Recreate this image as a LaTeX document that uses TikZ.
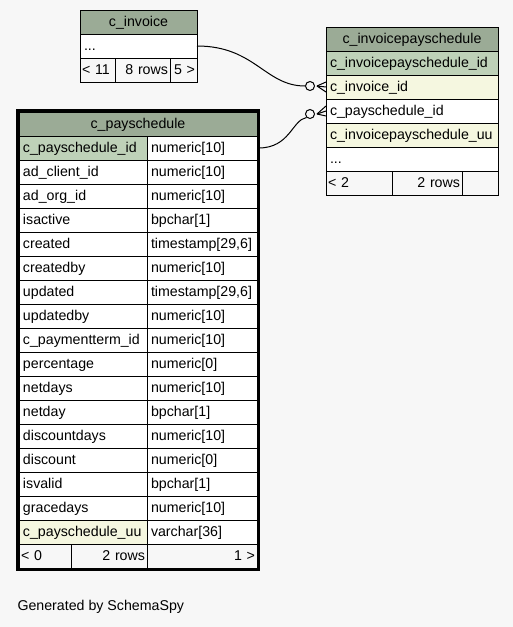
\documentclass[tikz,border=0pt]{standalone}
\usepackage{fontspec}
\setmainfont{Liberation Sans}
\usetikzlibrary{positioning}
\definecolor{bgcol}{HTML}{F7F7F7}
\definecolor{headcol}{HTML}{9BAB96}
\definecolor{keycol}{HTML}{BED1B8}
\definecolor{idxcol}{HTML}{F5F7E0}
\begin{document}
\begin{tikzpicture}[x=1pt, y=-1pt, line width=1pt,
		font=\fontsize{14.2}{16}\selectfont,
		cell/.style={draw, fill=white, minimum height=24pt, inner xsep=4pt, inner ysep=0pt, outer sep=0pt, text width=#1, text height=11pt, text depth=1.5pt, align=left, anchor=north west},
		head/.style={cell=#1, fill=headcol, align=center},
		key/.style={fill=keycol},
		idx/.style={fill=idxcol},
		foot/.style={cell=#1, fill=bgcol, inner xsep=2pt},
		ring/.style={circle, draw, fill=bgcol, minimum size=9pt, inner sep=0pt}]
			\fill[bgcol] (0,0) rectangle (513,627);
			\useasboundingbox (0,0) rectangle (513,627);
			% c_invoice
			\node[head=109pt] (inv) at (80,10) {c\_invoice};
			\node[cell=109pt, below=0pt of inv] (inv-dots) {...};
			\node[foot=31pt] (inv-f1) at (inv-dots.south west) {< 11};
			\node[foot=51pt, align=right, right=0pt of inv-f1] (inv-f2) {8 rows};
			\node[foot=23pt, align=right, right=0pt of inv-f2] (inv-f3) {5 >};
			% c_invoicepayschedule
			\node[head=164pt] (ips) at (326,27) {c\_invoicepayschedule};
			\node[cell=164pt, key, below=0pt of ips] (ips-id) {c\_invoicepayschedule\_id};
			\node[cell=164pt, idx, below=0pt of ips-id] (ips-inv) {c\_invoice\_id};
			\node[cell=164pt, below=0pt of ips-inv] (ips-pay) {c\_payschedule\_id};
			\node[cell=164pt, idx, below=0pt of ips-pay] (ips-uu) {c\_invoicepayschedule\_uu};
			\node[cell=164pt, below=0pt of ips-uu] (ips-dots) {...};
			\node[foot=62pt] (ips-f1) at (ips-dots.south west) {< 2};
			\node[foot=66pt, align=right, right=0pt of ips-f1] (ips-f2) {2 rows};
			\node[foot=32pt, right=0pt of ips-f2] (ips-f3) {};
			% c_payschedule
			\node[head=230pt] (ps) at (19,112) {c\_payschedule};
			\node[cell=120pt, key] (ps-n1) at (ps.south west) {c\_payschedule\_id};
			\node[cell=120pt, below=0pt of ps-n1] (ps-n2) {ad\_client\_id};
			\node[cell=120pt, below=0pt of ps-n2] (ps-n3) {ad\_org\_id};
			\node[cell=120pt, below=0pt of ps-n3] (ps-n4) {isactive};
			\node[cell=120pt, below=0pt of ps-n4] (ps-n5) {created};
			\node[cell=120pt, below=0pt of ps-n5] (ps-n6) {createdby};
			\node[cell=120pt, below=0pt of ps-n6] (ps-n7) {updated};
			\node[cell=120pt, below=0pt of ps-n7] (ps-n8) {updatedby};
			\node[cell=120pt, below=0pt of ps-n8] (ps-n9) {c\_paymentterm\_id};
			\node[cell=120pt, below=0pt of ps-n9] (ps-n10) {percentage};
			\node[cell=120pt, below=0pt of ps-n10] (ps-n11) {netdays};
			\node[cell=120pt, below=0pt of ps-n11] (ps-n12) {netday};
			\node[cell=120pt, below=0pt of ps-n12] (ps-n13) {discountdays};
			\node[cell=120pt, below=0pt of ps-n13] (ps-n14) {discount};
			\node[cell=120pt, below=0pt of ps-n14] (ps-n15) {isvalid};
			\node[cell=120pt, below=0pt of ps-n15] (ps-n16) {gracedays};
			\node[cell=120pt, idx, below=0pt of ps-n16] (ps-n17) {c\_payschedule\_uu};
			\node[cell=102pt, right=0pt of ps-n1] (ps-t1) {numeric[10]};
			\node[cell=102pt, right=0pt of ps-n2] (ps-t2) {numeric[10]};
			\node[cell=102pt, right=0pt of ps-n3] (ps-t3) {numeric[10]};
			\node[cell=102pt, right=0pt of ps-n4] (ps-t4) {bpchar[1]};
			\node[cell=102pt, right=0pt of ps-n5] (ps-t5) {timestamp[29,6]};
			\node[cell=102pt, right=0pt of ps-n6] (ps-t6) {numeric[10]};
			\node[cell=102pt, right=0pt of ps-n7] (ps-t7) {timestamp[29,6]};
			\node[cell=102pt, right=0pt of ps-n8] (ps-t8) {numeric[10]};
			\node[cell=102pt, right=0pt of ps-n9] (ps-t9) {numeric[10]};
			\node[cell=102pt, right=0pt of ps-n10] (ps-t10) {numeric[0]};
			\node[cell=102pt, right=0pt of ps-n11] (ps-t11) {numeric[10]};
			\node[cell=102pt, right=0pt of ps-n12] (ps-t12) {bpchar[1]};
			\node[cell=102pt, right=0pt of ps-n13] (ps-t13) {numeric[10]};
			\node[cell=102pt, right=0pt of ps-n14] (ps-t14) {numeric[0]};
			\node[cell=102pt, right=0pt of ps-n15] (ps-t15) {bpchar[1]};
			\node[cell=102pt, right=0pt of ps-n16] (ps-t16) {numeric[10]};
			\node[cell=102pt, right=0pt of ps-n17] (ps-t17) {varchar[36]};
			\node[foot=48pt] (ps-f1) at (ps-n17.south west) {< 0};
			\node[foot=72pt, align=right, right=0pt of ps-f1] (ps-f2) {2 rows};
			\node[foot=106pt, align=right, right=0pt of ps-f2] (ps-f3) {1 >};
			\draw[line width=3pt] ([shift={(-1.5,-1.5)}]ps.north west) rectangle ([shift={(1.5,1.5)}]ps-f3.south east);
			% links
			\node[ring] (o1) at (310,86) {};
			\draw (inv-dots.east) .. controls (255,46) and (265,86) .. (o1.west);
			\draw ([xshift=2pt]o1.east) -- ([yshift=5pt]ips-inv.west);
			\draw ([xshift=2pt]o1.east) -- (ips-inv.west);
			\draw ([xshift=2pt]o1.east) -- ([yshift=-5pt]ips-inv.west);
			\node[ring] (o2) at (310,114) {};
			\draw ([xshift=1.5pt]ps-t1.east) .. controls (290,148) and (292,120) .. (o2.south west);
			\draw ([xshift=2pt]o2.east) -- ([yshift=5pt]ips-pay.west);
			\draw ([xshift=2pt]o2.east) -- (ips-pay.west);
			\draw ([xshift=2pt]o2.east) -- ([yshift=-5pt]ips-pay.west);
			\node[anchor=west, inner sep=0pt] (gen) at (17,607) {Generated by SchemaSpy};
\end{tikzpicture}
\end{document}
